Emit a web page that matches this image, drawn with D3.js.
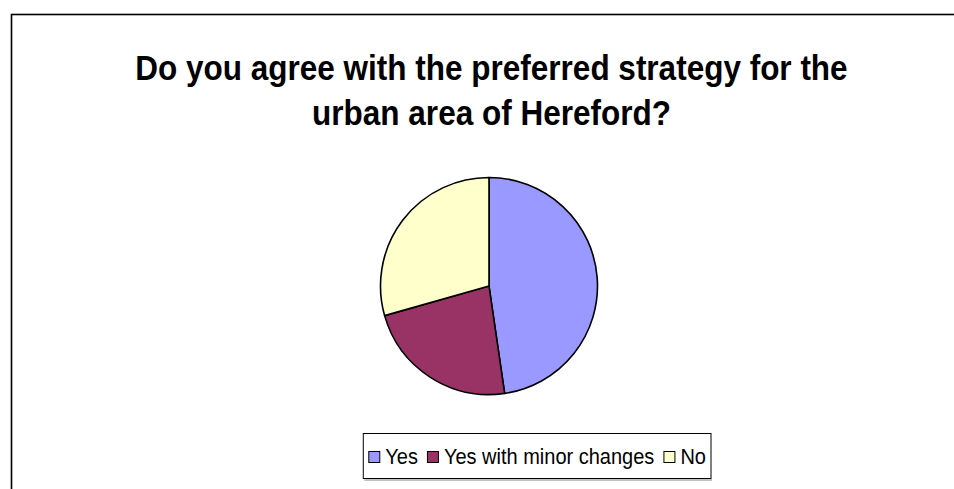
<!DOCTYPE html>
<html>
<head>
<meta charset="utf-8">
<script src="https://cdn.jsdelivr.net/npm/d3@7"></script>
<style>
  html, body { margin: 0; padding: 0; background: #fff; }
  svg { display: block; }
</style>
</head>
<body>
<svg id="chart" width="954" height="489"></svg>
<script>
const categories = ["Yes", "Yes with minor changes", "No"];
const values = [47.7, 22.9, 29.4];
const colors = ["#9999FF", "#993366", "#FFFFCC"];
const titleLines = ["Do you agree with the preferred strategy for the", "urban area of Hereford?"];

const svg = d3.select("#chart");
const W = 954, H = 489;

// outer chart frame (extends past right/bottom edges)
svg.append("rect")
  .attr("x", 11.5).attr("y", 14.5)
  .attr("width", 960).attr("height", 500)
  .attr("fill", "#fff").attr("stroke", "#000").attr("stroke-width", 1.6);

// title
const title = svg.append("text")
  .attr("text-anchor", "middle")
  .attr("font-family", "Liberation Sans, Arial, sans-serif")
  .attr("font-weight", "bold")
  .attr("font-size", 31.5)
  .attr("fill", "#000")
  .attr("transform", "scale(1,1.12)");
titleLines.forEach((t, i) => {
  title.append("tspan").attr("x", 491.5).attr("y", (80 + i * 45) / 1.12).text(t);
});

// pie
const cx = 489, cy = 286, r = 108.5;
const pie = d3.pie().sort(null).value(d => d.value);
const arc = d3.arc().innerRadius(0).outerRadius(r);
const data = categories.map((c, i) => ({ name: c, value: values[i], color: colors[i] }));
const color = d3.scaleOrdinal().domain(categories).range(colors);

svg.append("g").attr("transform", `translate(${cx},${cy})`)
  .selectAll("path").data(pie(data)).join("path")
  .attr("d", arc)
  .attr("fill", d => color(d.data.name))
  .attr("stroke", "#000").attr("stroke-width", 1.6)
  .attr("stroke-linejoin", "round");

// legend
const fs = 20;
const ys = 1.1;
const tmp = svg.append("text").attr("font-family", "Liberation Sans, Arial, sans-serif").attr("font-size", fs);
const widths = categories.map(c => { tmp.text(c); return tmp.node().getComputedTextLength(); });
tmp.remove();
const sw = 12, swGap = 5, itemGap = 9, pad = 5;
let total = pad;
widths.forEach((w, i) => { total += sw + swGap + w + (i < widths.length - 1 ? itemGap : 0); });
total += pad;
const boxRight = 711, boxTop = 433.5, boxH = 45;
const boxLeft = boxRight - total;

svg.append("line").attr("x1", boxLeft + 1).attr("x2", boxRight + 1)
  .attr("y1", boxTop + boxH + 1.5).attr("y2", boxTop + boxH + 1.5)
  .attr("stroke", "#888").attr("stroke-width", 1);
svg.append("rect").attr("x", boxLeft).attr("y", boxTop).attr("width", total).attr("height", boxH)
  .attr("fill", "#fff").attr("stroke", "#000").attr("stroke-width", 1);

const legend = svg.append("g");
let x = boxLeft + pad;
const midY = boxTop + boxH / 2;
categories.forEach((c, i) => {
  legend.append("rect").attr("x", x + 0.5).attr("y", midY - sw / 2 + 1.5).attr("width", sw - 1).attr("height", sw - 1)
    .attr("fill", color(c)).attr("stroke", "#000").attr("stroke-width", 1);
  legend.append("text").attr("x", x + sw + swGap).attr("y", (midY + fs * 0.38) / ys)
    .attr("transform", `scale(1,${ys})`)
    .attr("font-family", "Liberation Sans, Arial, sans-serif").attr("font-size", fs)
    .attr("fill", "#000").text(c);
  x += sw + swGap + widths[i] + itemGap;
});
</script>
</body>
</html>
